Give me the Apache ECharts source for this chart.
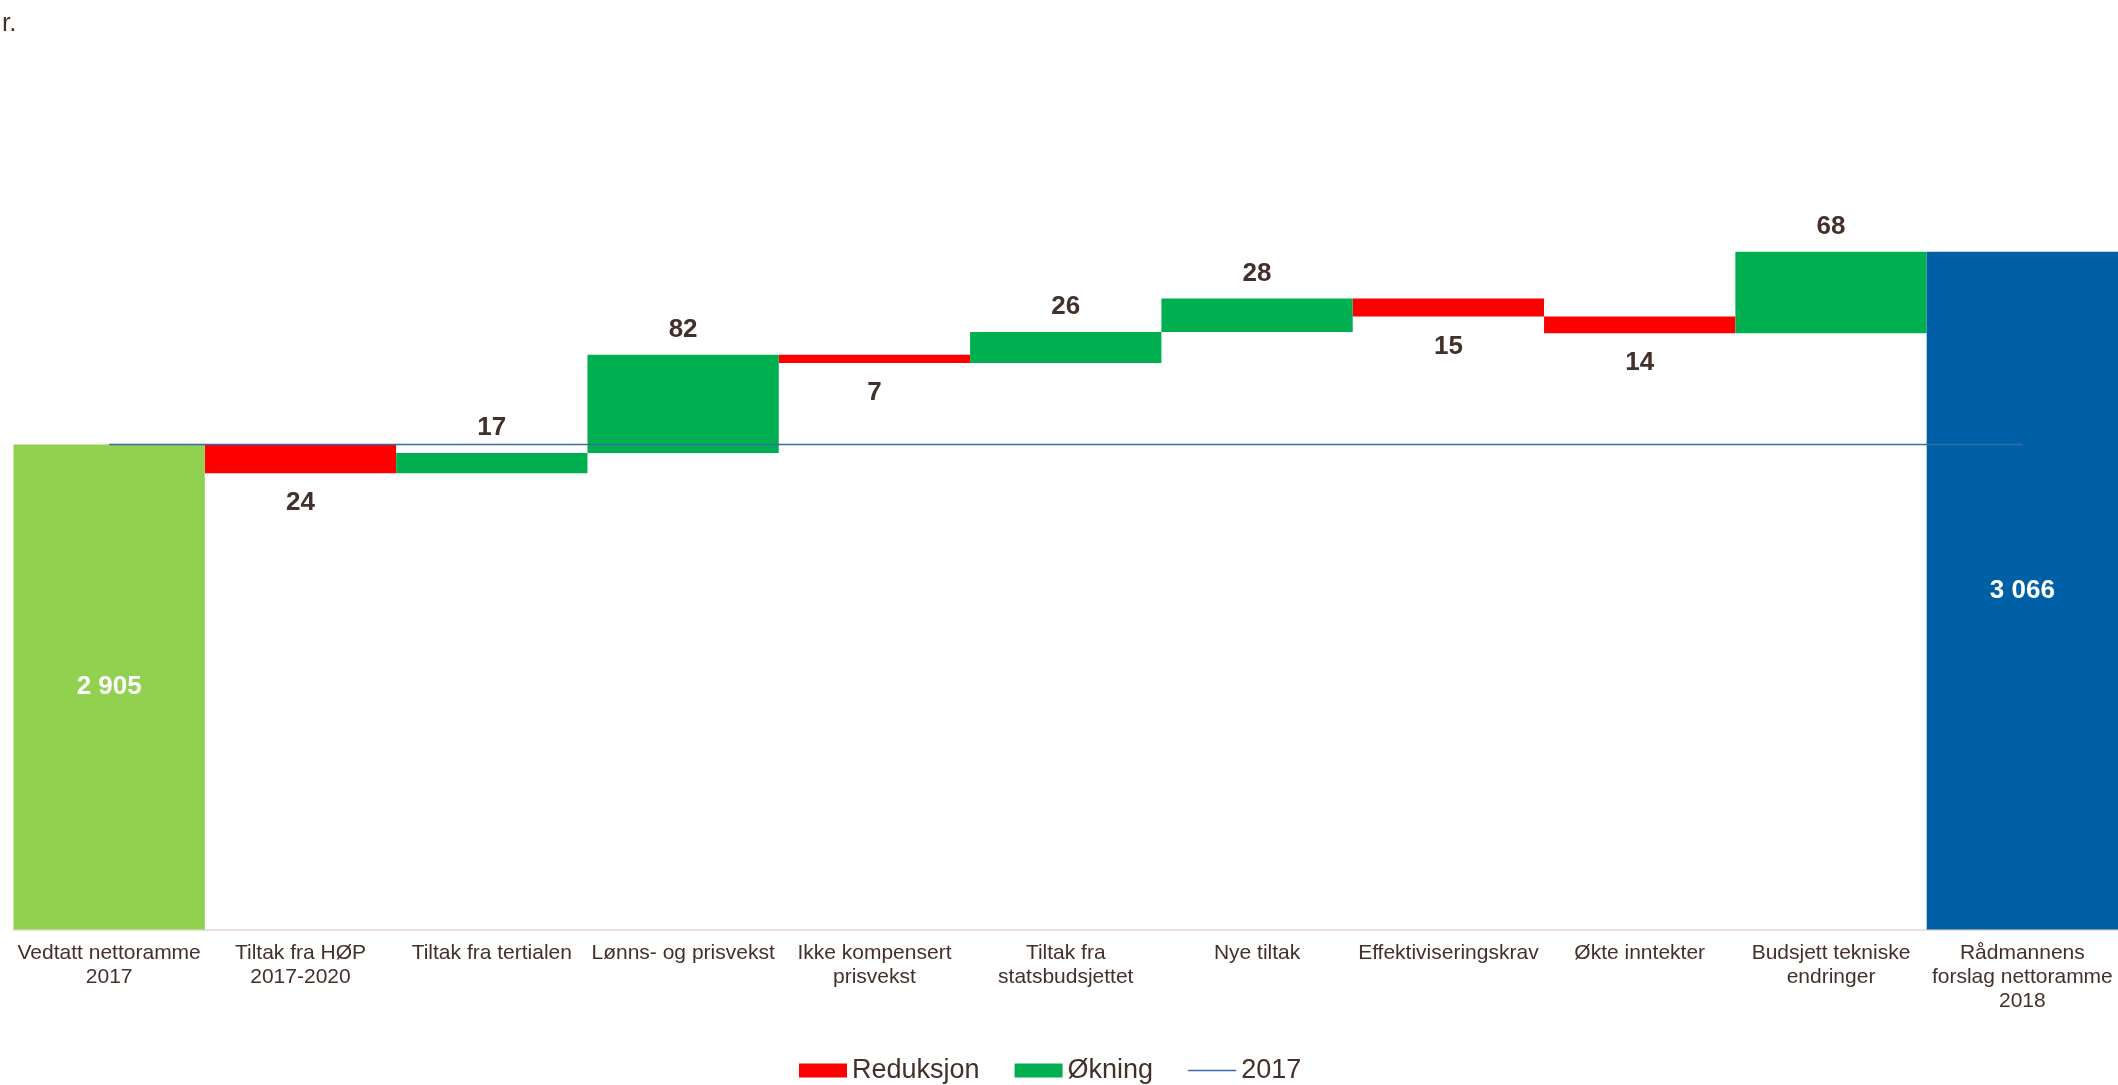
<!DOCTYPE html>
<html>
<head>
<meta charset="utf-8">
<script src="https://cdn.jsdelivr.net/npm/echarts@6/dist/echarts.min.js"></script>
<style>
html,body{margin:0;padding:0;background:#fff;}
#chart{width:2118px;height:1085px;}
</style>
</head>
<body>
<div id="chart"></div>
<script>
const categories = [
  "Vedtatt nettoramme\n2017",
  "Tiltak fra HØP\n2017-2020",
  "Tiltak fra tertialen",
  "Lønns- og prisvekst",
  "Ikke kompensert\nprisvekst",
  "Tiltak fra\nstatsbudsjettet",
  "Nye tiltak",
  "Effektiviseringskrav",
  "Økte inntekter",
  "Budsjett tekniske\nendringer",
  "Rådmannens\nforslag nettoramme\n2018"
];
const startTotal = 2905;
const changes = [-24, 17, 82, -7, 26, 28, -15, -14, 68];
const endTotal = 3066;
const level2017 = 2905;
const titleText = "r.";

// build waterfall stacks
const baseData = ['-'];
const redData = ['-'];
const greenData = ['-'];
let run = startTotal;
changes.forEach(d => {
  if (d < 0) {
    baseData.push(run + d);
    redData.push(-d);
    greenData.push('-');
  } else {
    baseData.push(run);
    redData.push('-');
    greenData.push(d);
  }
  run += d;
});
baseData.push('-'); redData.push('-'); greenData.push('-');
const totalData = categories.map((c, i) => {
  if (i === 0) return { value: startTotal, itemStyle: { color: '#92d050' } };
  if (i === categories.length - 1) return { value: endTotal, itemStyle: { color: '#0060a6' } };
  return '-';
});
const lineData = categories.map(() => level2017);

const fmt = v => String(v).replace(/\B(?=(\d{3})+(?!\d))/g, ' ');
const FONT = 'Arial, "Liberation Sans", sans-serif';
const TXT = '#43302a';

const chart = echarts.init(document.getElementById('chart'));
chart.setOption({
  animation: false,
  title: {
    text: titleText, left: -3, top: 6,
    textStyle: { fontFamily: FONT, fontSize: 26, fontWeight: 'normal', color: TXT }
  },
  legend: {
    top: 1057, left: 799, padding: 0,
    itemWidth: 48, itemHeight: 14, itemGap: 35,
    symbolKeepAspect: true,
    textStyle: { fontFamily: FONT, fontSize: 27, color: TXT },
    data: [
      { name: 'Reduksjon', icon: 'rect' },
      { name: 'Økning', icon: 'rect' },
      { name: '2017', icon: 'path://M0,0H48V1.5H0Z' }
    ]
  },
  grid: { left: 13.5, right: 0, top: 211, bottom: 155.5 },
  xAxis: {
    type: 'category',
    data: categories,
    axisTick: { show: false },
    axisLine: { lineStyle: { color: '#eadfdb', width: 2 } },
    axisLabel: {
      interval: 0, margin: 12, fontFamily: FONT, fontSize: 21,
      lineHeight: 24, color: TXT
    }
  },
  yAxis: {
    type: 'value', min: 2500, max: 3100, show: false,
    splitLine: { show: false }
  },
  series: [
    {
      name: 'base', type: 'bar', stack: 'w', data: baseData,
      barCategoryGap: '0%', barGap: '0%',
      itemStyle: { color: 'transparent' }, silent: true
    },
    {
      name: 'Reduksjon', type: 'bar', stack: 'w', data: redData,
      itemStyle: { color: '#ff0000' },
      label: {
        show: true, position: 'bottom', distance: 17,
        fontFamily: FONT, fontSize: 26, fontWeight: 'bold', color: TXT
      }
    },
    {
      name: 'Økning', type: 'bar', stack: 'w', data: greenData,
      itemStyle: { color: '#00b050' },
      label: {
        show: true, position: 'top', distance: 12,
        fontFamily: FONT, fontSize: 26, fontWeight: 'bold', color: TXT
      }
    },
    {
      name: 'Totals', type: 'bar', stack: 'w', data: totalData,
      label: {
        show: true, position: 'inside',
        fontFamily: FONT, fontSize: 26, fontWeight: 'bold', color: '#ffffff',
        formatter: p => fmt(p.value)
      }
    },
    {
      name: '2017', type: 'line', data: lineData, symbol: 'none',
      z: 10,
      lineStyle: { color: '#3a6aa6', width: 1.5 },
      itemStyle: { color: '#3a6aa6' }
    }
  ]
});
</script>
</body>
</html>
